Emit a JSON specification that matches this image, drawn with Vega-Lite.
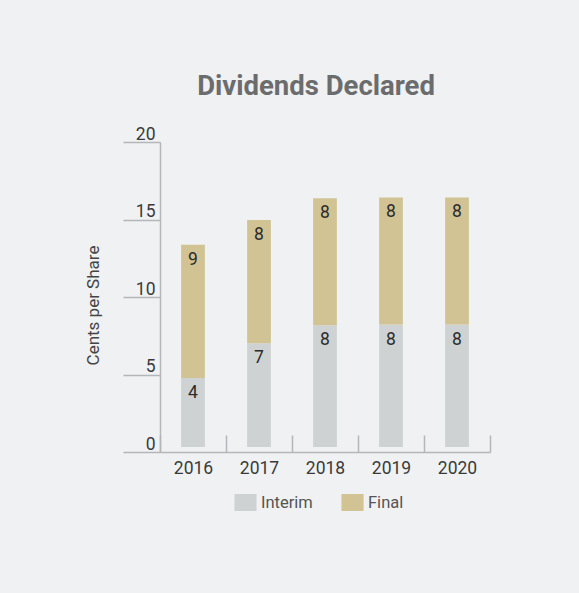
{
  "$schema": "https://vega.github.io/schema/vega-lite/v6.json",
  "width": 330,
  "height": 310,
  "autosize": {"type": "none"},
  "padding": {"left": 160, "top": 142, "right": 89, "bottom": 141},
  "background": "#f0f1f3",
  "title": {
    "text": "Dividends Declared",
    "font": "Roboto",
    "fontSize": 27.5,
    "fontWeight": "bold",
    "color": "#6b6c6e",
    "anchor": "middle",
    "frame": "group",
    "baseline": "alphabetic",
    "dx": -9,
    "offset": 3
  },
  "config": {
    "font": "Roboto",
    "view": {"stroke": null},
    "axis": {"grid": false}
  },
  "data": {
    "values": [
      {"year": "2016", "type": "Interim", "value": 4.45, "label": "4"},
      {"year": "2016", "type": "Final", "value": 8.6, "label": "9"},
      {"year": "2017", "type": "Interim", "value": 6.7, "label": "7"},
      {"year": "2017", "type": "Final", "value": 7.95, "label": "8"},
      {"year": "2018", "type": "Interim", "value": 7.85, "label": "8"},
      {"year": "2018", "type": "Final", "value": 8.2, "label": "8"},
      {"year": "2019", "type": "Interim", "value": 7.9, "label": "8"},
      {"year": "2019", "type": "Final", "value": 8.2, "label": "8"},
      {"year": "2020", "type": "Interim", "value": 7.9, "label": "8"},
      {"year": "2020", "type": "Final", "value": 8.2, "label": "8"}
    ]
  },
  "encoding": {
    "x": {
      "field": "year",
      "type": "nominal",
      "scale": {"paddingInner": 0, "paddingOuter": 0},
      "axis": {
        "title": null,
        "labelAngle": 0,
        "labelFontSize": 17.5,
        "labelColor": "#3a3a3a",
        "domainColor": "#b5b6b8",
        "domainWidth": 1.5,
        "tickColor": "#b5b6b8",
        "tickWidth": 1.5,
        "tickSize": -17,
        "tickBand": "extent",
        "labelPadding": 24
      }
    },
    "y": {
      "field": "value",
      "type": "quantitative",
      "stack": "zero",
      "scale": {"domain": [0, 20]},
      "axis": {
        "title": "Cents per Share",
        "titleFontSize": 17,
        "titleFontWeight": "normal",
        "titleColor": "#444444",
        "titleBaseline": "alphabetic",
        "titleX": -62,
        "titleY": 163,
        "values": [0, 5, 10, 15, 20],
        "labelFontSize": 17.5,
        "labelColor": "#3a3a3a",
        "labelBaseline": "alphabetic",
        "labelOffset": -3,
        "labelPadding": -32,
        "tickSize": 37,
        "tickColor": "#b5b6b8",
        "tickWidth": 1.5,
        "domainColor": "#b5b6b8",
        "domainWidth": 1.5
      }
    },
    "order": {"field": "type", "sort": "descending"}
  },
  "layer": [
    {
      "mark": {"type": "bar", "width": {"band": 0.36}, "yOffset": -5},
      "encoding": {
        "color": {
          "field": "type",
          "type": "nominal",
          "scale": {"domain": ["Interim", "Final"], "range": ["#cfd2d3", "#d1c394"]},
          "legend": {
            "title": null,
            "orient": "none",
            "direction": "horizontal",
            "legendX": 77,
            "legendY": 352,
            "symbolType": "M-1.3,-1H1.3V1H-1.3Z",
            "symbolSize": 289,
            "symbolStrokeWidth": 0,
            "symbolOpacity": 1,
            "labelFontSize": 16.5,
            "labelColor": "#555555",
            "labelOffset": 7,
            "columnPadding": 28,
            "padding": 0
          }
        }
      }
    },
    {
      "mark": {"type": "text", "baseline": "top", "dy": 1, "fontSize": 17.5, "color": "#2b2b2b"},
      "encoding": {
        "text": {"field": "label"}
      }
    }
  ]
}
